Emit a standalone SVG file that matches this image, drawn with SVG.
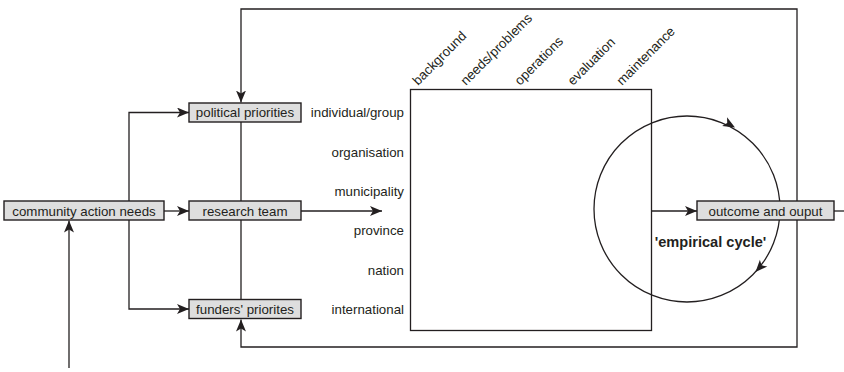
<svg xmlns="http://www.w3.org/2000/svg" xmlns:xlink="http://www.w3.org/1999/xlink" width="844" height="372" viewBox="0 0 844 372">
  <defs>
    <style>
      .box { fill: #dedede; stroke: #231f20; stroke-width: 1.4; }
      .line { fill: none; stroke: #231f20; stroke-width: 1.3; }
      .txt { font-family: "Liberation Sans", Arial, sans-serif; font-size: 13.3px; fill: #231f20; }
      .mid { text-anchor: middle; }
      .end { text-anchor: end; }
      .bold { font-weight: bold; font-size: 14.6px; }
    </style>
    <marker id="arrow" viewBox="0 0 12 10" refX="12" refY="5" markerWidth="12" markerHeight="10" markerUnits="userSpaceOnUse" orient="auto">
      <path d="M0,0 L12,5 L0,10 L3,5 z" fill="#231f20"/>
    </marker>
    <path id="head" d="M0,0 L-12,-5 L-9,0 L-12,5 z" fill="#231f20"/>
  </defs>

  <!-- connectors -->
  <g id="connectors">
    <!-- spine linking the three middle boxes -->
    <path class="line" d="M241,122 V299"/>
    <!-- branches from community action needs -->
    <path class="line" d="M129,201 V112.5 H189" marker-end="url(#arrow)"/>
    <path class="line" d="M129,220 V309 H189" marker-end="url(#arrow)"/>
    <path class="line" d="M164,211 H189" marker-end="url(#arrow)"/>
    <!-- input arrow from below -->
    <path class="line" d="M69,368 V220.5" marker-end="url(#arrow)"/>
    <!-- research team into the matrix -->
    <path class="line" d="M301,211 H382" marker-end="url(#arrow)"/>
    <!-- matrix to outcome -->
    <path class="line" d="M651,211 H697" marker-end="url(#arrow)"/>
    <path class="line" d="M834,211 H844"/>
    <!-- feedback loops -->
    <path class="line" d="M797,211 V9 H241 V102.5" marker-end="url(#arrow)"/>
    <path class="line" d="M797,211 V347 H241 V319.5" marker-end="url(#arrow)"/>
  </g>

  <!-- matrix -->
  <g id="matrix">
    <rect class="line" x="410.5" y="89.5" width="241" height="241"/>
    <g class="txt">
      <text transform="translate(418,86) rotate(-45)">background</text>
      <text transform="translate(466,86) rotate(-45)">needs/problems</text>
      <text transform="translate(520,86) rotate(-45)">operations</text>
      <text transform="translate(573,86) rotate(-45)">evaluation</text>
      <text transform="translate(622,86) rotate(-45)">maintenance</text>
    </g>
    <g class="txt end">
      <text x="404" y="117">individual/group</text>
      <text x="404" y="156.5">organisation</text>
      <text x="404" y="195.5">municipality</text>
      <text x="404" y="235">province</text>
      <text x="404" y="274.5">nation</text>
      <text x="404" y="314">international</text>
    </g>
  </g>

  <!-- empirical cycle -->
  <g id="cycle">
    <circle class="line" cx="687" cy="209" r="93"/>
    <use xlink:href="#head" href="#head" transform="translate(735,127.5) rotate(29.8)"/>
    <use xlink:href="#head" href="#head" transform="translate(755.5,272) rotate(132.4)"/>
    <text class="txt bold mid" x="710.5" y="247">'empirical cycle'</text>
  </g>

  <g id="community-action-needs">
    <rect class="box" x="4" y="201" width="160" height="19"/>
    <text class="txt mid" x="84" y="215.5">community action needs</text>
  </g>

  <g id="political-priorities">
    <rect class="box" x="189" y="103" width="112" height="19"/>
    <text class="txt mid" x="245" y="117">political priorities</text>
  </g>

  <g id="research-team">
    <rect class="box" x="189" y="201" width="112" height="19"/>
    <text class="txt mid" x="245" y="215.5">research team</text>
  </g>

  <g id="funders-priorities">
    <rect class="box" x="189" y="299.5" width="112" height="19"/>
    <text class="txt mid" x="245" y="314">funders' priorites</text>
  </g>

  <g id="outcome-and-output">
    <rect class="box" x="697" y="201" width="137" height="19"/>
    <text class="txt mid" x="765.5" y="215.5">outcome and ouput</text>
  </g>
</svg>
